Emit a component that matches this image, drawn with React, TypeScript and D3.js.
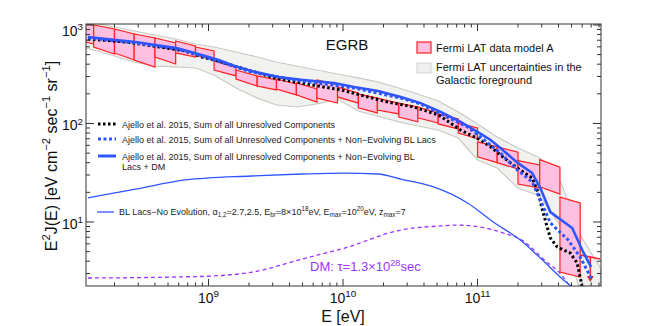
import React from 'react';
import * as d3 from 'd3';

const W = 664;
const H = 326;
const plot = { left: 86, right: 601, top: 24, bottom: 286 };
const FONT = '"Liberation Sans", Arial, Helvetica, sans-serif';

// Fermi LAT EGB (model A) energy bins, GeV
const fermiEdges = [0.1, 0.14, 0.2, 0.28, 0.4, 0.57, 0.8, 1.1, 1.6, 2.3, 3.2, 4.5, 6.4, 9.1, 13, 18, 26, 36, 51, 72, 100, 140, 200, 290, 410, 580, 820];
// E^2 J at left / right bin edge, upper and lower side of the band (eV cm^-2 s^-1 sr^-1)
const fermiHiL = [1072, 999, 910, 810, 738, 688, 598, 431, 349, 304, 283, 258, 277, 235, 199, 181, 161, 147, 125, 101, 65, 58, 42, 43, 17.9];
const fermiHiR = [999, 910, 810, 738, 656, 612, 544, 374, 304, 277, 252, 224, 246, 204, 181, 161, 147, 128, 111, 90, 58, 51, 38, 36, 15.6];
const fermiLoL = [721, 598, 520, 441, 473, 520, 496, 349, 283, 240, 224, 195, 181, 186, 144, 137, 116, 114, 99, 80, 46, 40, 24.3, 22.7, 3.1];
const fermiLoR = [641, 508, 441, 374, 402, 473, 441, 304, 240, 219, 195, 165, 161, 161, 128, 125, 104, 101, 88, 70, 40, 34.5, 22.1, 19.2, 2.76];
// last bin: upper limit
const fermiUL = [4.62, 4.21];
const fermiULTip = 2.46;

// galactic foreground uncertainty band, at the bin edges
const greyHi = [1124, 1048, 954, 869, 791, 721, 641, 598, 532, 473, 421, 383, 349, 318, 290, 264, 229, 199, 169, 131, 98.8, 72.9, 56.4, 45, 26.7, 7.38, 3.41];
const greyLo = [626, 557, 484, 421, 383, 375, 366, 311, 229, 181, 154, 147, 158, 177, 134, 119, 104, 94.3, 85.9, 71.2, 42.6, 35.3, 22.1, 18.4, 9.3, 2.0, 1.8];

// Ajello et al. 2015, sum of unresolved components
const ajelloE = [0.127, 0.243, 0.385, 0.675, 0.888, 1.19, 1.56, 2.34, 3.3, 4.89, 6.53, 9.67, 15.3, 21.5, 33.6, 51.4, 74.8, 105, 125, 148, 175, 208, 255, 283, 308, 348, 392, 489, 551, 600];
const ajelloV = [721, 672, 612, 544, 473, 431, 383, 326, 283, 258, 240, 219, 186, 165, 147, 122, 85.9, 68, 58, 47.9, 40, 33.7, 28, 19.7, 12.3, 6.88, 5.57, 4.84, 3.83, 2.19];
// + non-evolving BL Lacs
const blE = [0.127, 0.288, 0.58, 0.888, 2.08, 4.89, 12.1, 26.9, 37.8, 53.2, 84.3, 105, 148, 198, 255, 293, 348, 472, 580, 711];
const blV = [738, 656, 570, 484, 333, 270, 229, 181, 158, 125, 92.1, 72.9, 50.2, 33.7, 25.5, 16.7, 9.8, 6.56, 4.41, 2.58];
// + non-evolving BL Lacs + DM
const dmSumE = [0.127, 0.205, 0.288, 0.405, 0.58, 0.888, 1.19, 1.56, 2.08, 3.3, 4.89, 8.57, 12.1, 18.2, 26.9, 37.8, 53.2, 74.8, 100, 125, 148, 198, 255, 293, 348, 506, 600, 699];
const dmSumV = [755, 704, 672, 626, 584, 496, 441, 383, 341, 296, 277, 258, 235, 214, 186, 161, 131, 104, 82, 68, 56.4, 40, 31.4, 22.1, 12.6, 8.69, 5.19, 3.49];
// BL Lacs, no evolution
const noEvoE = [0.127, 0.288, 0.675, 2.08, 4.89, 10.2, 18.2, 26.9, 47.2, 84.3, 131, 208, 293, 464, 506];
const noEvoV = [17.6, 21.6, 26.7, 29.3, 30.7, 31.4, 30.7, 27.3, 22.7, 15.6, 10.0, 6.56, 4.31, 2.4, 2.19];
// DM decay, tau = 1.3e28 s
const dmE = [0.127, 0.541, 1.07, 2.12, 4.97, 10.3, 26.9, 51.4, 71.1, 105, 156, 219, 308, 434, 489];
const dmV = [2.7, 2.76, 2.83, 3.1, 4.21, 5.44, 8.29, 9.1, 9.3, 8.89, 7.73, 6.41, 4.21, 2.76, 2.19];

const xMajor = [9, 10, 11];
const yMajor = [1, 2, 3];

const RED = '#ff2020';
const PINK = '#ffbfe0';
const BLUE = '#2f55ff';
const PURPLE = '#9b33ff';

type Seg = [string, ('sup' | 'sub')?];

function Rich({ x, y, size, segs, anchor = 'start', fill = '#111', transform }: {
  x: number; y: number; size: number; segs: Seg[]; anchor?: string; fill?: string; transform?: string;
}) {
  let cur = 0;
  return (
    <text x={x} y={y} fontSize={size} textAnchor={anchor} fill={fill} transform={transform} fontFamily={FONT}>
      {segs.map(([t, k], i) => {
        const target = k === 'sup' ? -0.42 * size : k === 'sub' ? 0.25 * size : 0;
        const dy = target - cur;
        cur = target;
        return <tspan key={i} dy={dy} fontSize={k ? size * 0.7 : size}>{t}</tspan>;
      })}
    </text>
  );
}

export default function App() {
  const x = d3.scaleLog().domain([1.228e8, 8.28e11]).range([plot.left, plot.right]);
  const y = d3.scaleLog().domain([2.24, 1023]).range([plot.bottom, plot.top]);
  const X = (gev: number) => x(gev * 1e9);

  const zip = (e: number[], v: number[]) => e.map((d, i) => [d, v[i]] as [number, number]);
  const line = d3.line<[number, number]>().x(d => X(d[0])).y(d => y(d[1]));
  const smooth = d3.line<[number, number]>().x(d => X(d[0])).y(d => y(d[1])).curve(d3.curveMonotoneX);

  const band = d3.area<number>()
    .x(d => X(fermiEdges[d]))
    .y0(d => y(greyLo[d]))
    .y1(d => y(greyHi[d]));

  const bins = fermiHiL.map((_, i) => {
    const l = X(fermiEdges[i]);
    const r = X(fermiEdges[i + 1]);
    return `${l},${y(fermiHiL[i])} ${r},${y(fermiHiR[i])} ${r},${y(fermiLoR[i])} ${l},${y(fermiLoL[i])}`;
  });

  const ulL = fermiEdges[fermiEdges.length - 2];
  const ulR = fermiEdges[fermiEdges.length - 1];
  const ulMid = Math.sqrt(ulL * ulR);
  const ulScale = d3.scaleLog().domain([ulL, ulR]).range(fermiUL);
  const ulX = X(ulMid);
  const ulY = y(ulScale(ulMid));
  const tipY = y(fermiULTip);

  // ticks
  const xMinor: number[] = [];
  for (let p = 8; p <= 11; p++) for (let m = 2; m <= 9; m++) {
    const v = m * Math.pow(10, p);
    if (v > x.domain()[0] && v < x.domain()[1]) xMinor.push(v);
  }
  const yMinor: number[] = [];
  for (let p = 0; p <= 2; p++) for (let m = 2; m <= 9; m++) {
    const v = m * Math.pow(10, p);
    if (v > y.domain()[0] && v < y.domain()[1]) yMinor.push(v);
  }

  const legendLeft = [
    { y: 124, color: '#000', dash: '2.5 2.5', w: 3, lines: ['Ajello et al. 2015, Sum of all Unresolved Components'] },
    { y: 139, color: BLUE, dash: '3 2.5', w: 3, lines: ['Ajello et al. 2015, Sum of all Unresolved Components + Non\u2212Evolving BL Lacs'] },
    { y: 156, color: BLUE, dash: undefined, w: 3, lines: ['Ajello et al. 2015, Sum of all Unresolved Components + Non\u2212Evolving BL', 'Lacs + DM'] },
  ];

  return (
    <svg width={W} height={H} style={{ position: 'absolute', left: 0, top: 0, background: '#fff' }} fontFamily={FONT}>
      <defs>
        <clipPath id="plotclip">
          <rect x={plot.left} y={plot.top} width={plot.right - plot.left} height={plot.bottom - plot.top} />
        </clipPath>
      </defs>

      <g clipPath="url(#plotclip)">
        <path d={band(d3.range(fermiEdges.length)) || ''} fill="#f1f1f0" stroke="#cacac3" strokeWidth={1.2} />
        {bins.map((pts, i) => (
          <polygon key={i} points={pts} fill={PINK} stroke={RED} strokeWidth={1.2} />
        ))}
        <line x1={X(ulL)} x2={X(ulR)} y1={y(fermiUL[0])} y2={y(fermiUL[1])} stroke={RED} strokeWidth={1.5} />
        <line x1={ulX} x2={ulX} y1={ulY} y2={tipY - 5} stroke={RED} strokeWidth={1.5} />
        <polygon points={`${ulX - 3.5},${tipY - 6} ${ulX + 3.5},${tipY - 6} ${ulX},${tipY}`} fill={RED} />

        <path d={smooth(zip(dmE, dmV)) || ''} fill="none" stroke={PURPLE} strokeWidth={1.3} strokeDasharray="4 3" />
        <path d={smooth(zip(noEvoE, noEvoV)) || ''} fill="none" stroke={BLUE} strokeWidth={1.3} />
        <path d={line(zip(ajelloE, ajelloV)) || ''} fill="none" stroke="#000" strokeWidth={3} strokeDasharray="2.5 2.5" />
        <path d={line(zip(blE, blV)) || ''} fill="none" stroke={BLUE} strokeWidth={3} strokeDasharray="3 2.5" />
        <path d={line(zip(dmSumE, dmSumV)) || ''} fill="none" stroke={BLUE} strokeWidth={2.6} />
      </g>

      {/* frame and ticks */}
      <rect x={plot.left} y={plot.top} width={plot.right - plot.left} height={plot.bottom - plot.top} fill="none" stroke="#333" strokeWidth={1} />
      <g stroke="#333" strokeWidth={1}>
        {xMajor.map(p => {
          const px = x(Math.pow(10, p));
          return (
            <g key={p}>
              <line x1={px} x2={px} y1={plot.bottom} y2={plot.bottom - 7} />
              <line x1={px} x2={px} y1={plot.top} y2={plot.top + 7} />
            </g>
          );
        })}
        {xMinor.map(v => {
          const px = x(v);
          return (
            <g key={v}>
              <line x1={px} x2={px} y1={plot.bottom} y2={plot.bottom - 3.5} />
              <line x1={px} x2={px} y1={plot.top} y2={plot.top + 3.5} />
            </g>
          );
        })}
        {yMajor.map(p => {
          const py = y(Math.pow(10, p));
          return (
            <g key={p}>
              <line x1={plot.left} x2={plot.left + 8} y1={py} y2={py} />
              <line x1={plot.right} x2={plot.right - 8} y1={py} y2={py} />
            </g>
          );
        })}
        {yMinor.map(v => {
          const py = y(v);
          return (
            <g key={v}>
              <line x1={plot.left} x2={plot.left + 4} y1={py} y2={py} />
              <line x1={plot.right} x2={plot.right - 4} y1={py} y2={py} />
            </g>
          );
        })}
      </g>

      {xMajor.map(p => (
        <Rich key={p} x={x(Math.pow(10, p))} y={303} size={14} anchor="middle" segs={[['10'], [String(p), 'sup']]} />
      ))}
      {yMajor.map(p => (
        <Rich key={p} x={83} y={p === 3 ? 36 : y(Math.pow(10, p)) + 7} size={14} anchor="end" segs={[['10'], [String(p), 'sup']]} />
      ))}

      <text x={343} y={322} fontSize={16} textAnchor="middle" fill="#111">E [eV]</text>
      <Rich x={57} y={156} size={16} anchor="middle" transform="rotate(-90, 57, 156)"
        segs={[['E'], ['2', 'sup'], ['J(E) [eV cm'], ['\u22122', 'sup'], [' sec'], ['\u22121', 'sup'], [' sr'], ['\u22121', 'sup'], [']']]} />

      <text x={347} y={50} fontSize={15} textAnchor="middle" fill="#111">EGRB</text>

      {/* right legend */}
      <rect x={417} y={42} width={14} height={11} fill={PINK} stroke={RED} strokeWidth={1.2} />
      <text x={436} y={52} fontSize={11} fill="#111">Fermi LAT data model A</text>
      <rect x={417} y={63} width={14} height={10} fill="#efefef" stroke="#d0d0c8" strokeWidth={1} />
      <text x={436} y={71} fontSize={11} fill="#111">Fermi LAT uncertainties in the</text>
      <text x={436} y={83.5} fontSize={11} fill="#111">Galactic foreground</text>

      {/* left legend */}
      {legendLeft.map((l, i) => (
        <g key={i}>
          <line x1={98} x2={116} y1={l.y} y2={l.y} stroke={l.color} strokeWidth={l.w} strokeDasharray={l.dash} />
          {l.lines.map((t, j) => (
            <text key={j} x={122} y={l.y + 3.5 + j * 10.5} fontSize={9} fill="#222">{t}</text>
          ))}
        </g>
      ))}
      <line x1={97} x2={114} y1={212} y2={212} stroke={BLUE} strokeWidth={1.3} />
      <Rich x={119} y={215} size={9} fill="#222" segs={[
        ['BL Lacs\u2212No Evolution, \u03b1'], ['1,2', 'sub'], ['=2.7,2.5, E'], ['br', 'sub'], ['=8\u00d710'], ['18', 'sup'],
        ['eV, E'], ['max', 'sub'], ['=10'], ['20', 'sup'], ['eV, z'], ['max', 'sub'], ['=7'],
      ]} />

      <Rich x={310} y={271} size={13} fill={PURPLE} segs={[['DM: \u03c4=1.3\u00d710'], ['28', 'sup'], ['sec']]} />
    </svg>
  );
}
